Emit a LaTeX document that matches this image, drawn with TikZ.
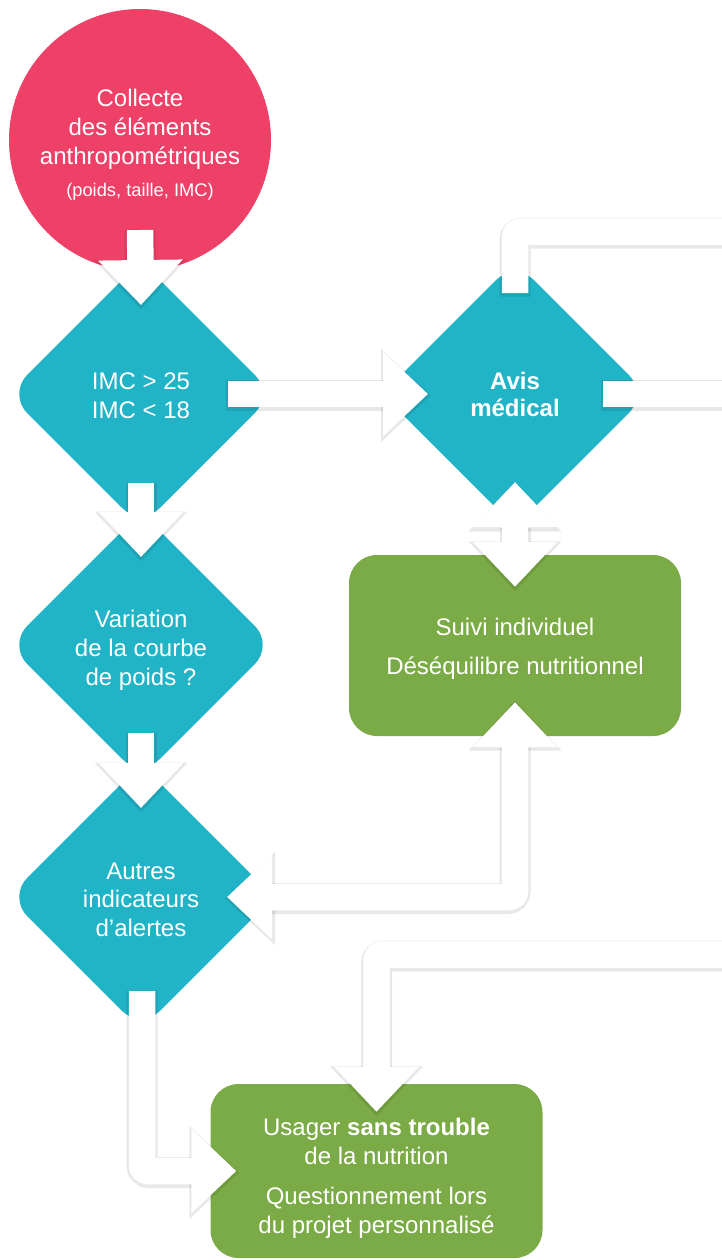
\documentclass[tikz,border=0pt]{standalone}
\usepackage{fontspec}
\setmainfont{Liberation Sans}
\usetikzlibrary{arrows.meta,shapes.geometric,calc}

\definecolor{rose}{HTML}{EF4068}
\definecolor{bleu}{HTML}{21B3C6}
\definecolor{vert}{HTML}{7BAB46}

\newcommand\decale[1]{\rule{0pt}{#1}}

\tikzset{
  rond/.style={circle, fill=rose, text=white, minimum size=262pt, inner sep=0pt,
    align=center, font=\fontsize{24}{29}\selectfont},
  losange/.style={diamond, fill=bleu, text=white, minimum width=266pt, minimum height=266pt,
    inner sep=0pt, rounded corners=27pt, align=center, font=\fontsize{24}{28.8}\selectfont},
  cadre/.style={rectangle, fill=vert, text=white, rounded corners=28pt, minimum width=332pt,
    inner sep=0pt, align=center, font=\fontsize{24}{29}\selectfont},
  fleche/.style={draw=white, line width=26.5pt, rounded corners=6pt,
    >={Triangle[width=82pt,length=45pt]}},
  ombre/.style={draw=black, opacity=0.09, line width=31pt, rounded corners=7pt,
    >={Triangle[width=90pt,length=50pt]}, shorten >=-3pt, shorten <=-2pt,
    transform canvas={yshift=-1.5pt}},
}

\begin{document}
\begin{tikzpicture}[x=1pt,y=-1pt]
\useasboundingbox (0,0) rectangle (721,1260);

\node (collecte) [rond] at (140,140) {\decale{27pt}Collecte\\des éléments\\anthropométriques\\[3pt]
  {\fontsize{18.3}{22}\selectfont (poids, taille, IMC)}};
\node (imc) [losange] at (141,394) {\decale{20pt}IMC > 25\\IMC < 18};
\node (variation) [losange] at (141,645) {\decale{28pt}Variation\\de la courbe\\de poids ?};
\node (alertes) [losange] at (141,897) {\decale{22pt}Autres\\indicateurs\\d’alertes};
\node (avis) [losange, font=\bfseries\fontsize{24}{27}\selectfont] at (515,394) {\decale{19pt}Avis\\médical};
\node (suivi) [cadre, minimum height=181pt] at (515,645.5) {\decale{23pt}Suivi individuel\\[10pt]Déséquilibre nutritionnel};
\node (usager) [cadre, minimum height=174pt] at (376.5,1171) {\decale{31pt}Usager \textbf{sans trouble}\\de la nutrition\\[11pt]Questionnement lors\\du projet personnalisé};

\coordinate (sortieA) at (735,231.5);
\coordinate (sortieB) at (735,394);
\coordinate (entreeC) at (735,954.5);

\foreach \couche in {1,2} {
  \ifnum\couche=1 \tikzset{trait/.style={ombre}}\else\tikzset{trait/.style={fleche}}\fi
  \draw[trait,->] ($(collecte.center)+(0,90)$) -- ($(imc.center)+(0,-89)$);
  \draw[trait,->] ($(imc.center)+(0,89)$) -- ($(variation.center)+(0,-88)$);
  \draw[trait,->] ($(variation.center)+(0,88)$) -- ($(alertes.center)+(0,-89)$);
  \draw[trait,->] ($(imc.center)+(87,0)$) -- ($(avis.center)+(-87,0)$);
  \draw[trait,<->] ($(avis.center)+(0,88)$) -- ($(suivi.north)+(0,32)$);
  \draw[trait,<->] ($(alertes.center)+(86,0)$) -| ($(suivi.south)+(0,-34)$);
  \draw[trait] ($(avis.center)+(0,-101)$) |- (sortieA);
  \draw[trait] ($(avis.center)+(88,0)$) -- (sortieB);
  \draw[trait,->] ($(alertes.center)+(1,94)$) |- ($(usager.west)+(26,0)$);
  \draw[trait,->] (entreeC) -| ($(usager.north)+(0,28)$);
}
\end{tikzpicture}
\end{document}
